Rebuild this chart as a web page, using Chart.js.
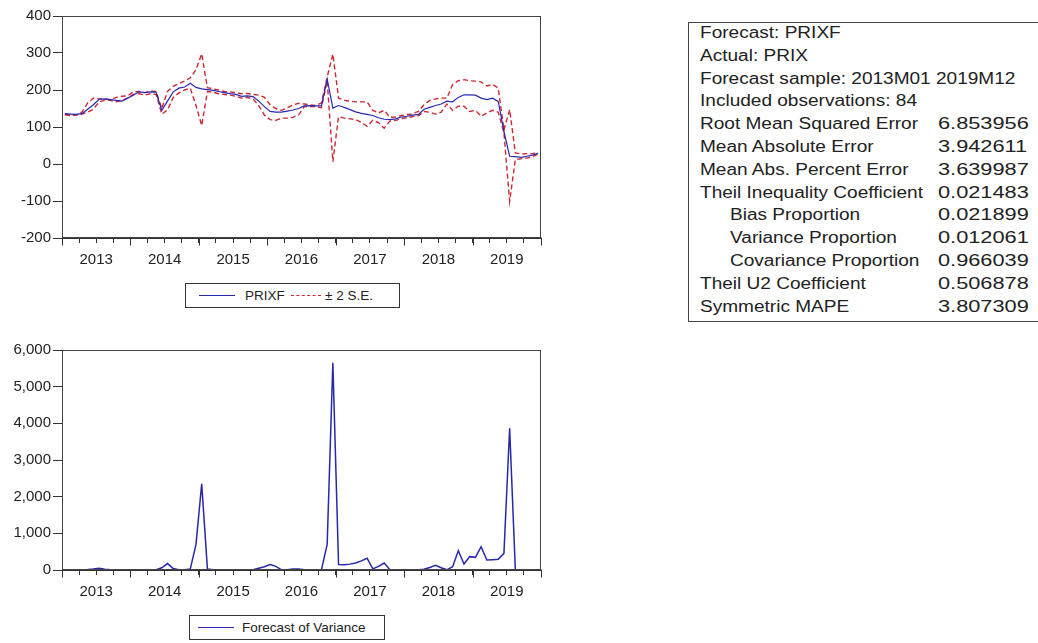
<!DOCTYPE html>
<html><head><meta charset="utf-8">
<script src="https://cdn.jsdelivr.net/npm/chart.js@4.4.1/dist/chart.umd.min.js"></script>
<style>
html,body{margin:0;padding:0;background:#fff;width:1038px;height:643px;overflow:hidden;font-family:"Liberation Sans",Arial,sans-serif;color:#222;}
#topWrap{position:absolute;left:0;top:0;width:560px;height:275px;}
#botWrap{position:absolute;left:0;top:330px;width:560px;height:275px;}
.legend{position:absolute;border:1px solid #333;background:#fff;font-size:13.5px;color:#222;box-sizing:border-box;}
.legend .ln{position:absolute;height:0;}
.legend .tx{position:absolute;white-space:nowrap;line-height:16px;}
#table{position:absolute;left:688px;top:22px;width:400px;height:300px;border:1px solid #444;box-sizing:border-box;}
.row{position:absolute;white-space:nowrap;font-size:16px;line-height:20px;transform:scaleX(1.19);transform-origin:0 50%;color:#222;}
.val{transform:scaleX(1.36);}
</style>
</head><body>
<div id="topWrap"><canvas id="c1"></canvas></div>
<div id="botWrap"><canvas id="c2"></canvas></div>

<div class="legend" style="left:185px;top:283px;width:215px;height:25px;">
  <div class="ln" style="left:13px;top:11px;width:36px;border-top:1.5px solid rgb(40,40,180);"></div>
  <div class="tx" style="left:59px;top:4px;">PRIXF</div>
  <div class="ln" style="left:105px;top:11px;width:30px;border-top:1.5px dashed rgb(205,40,50);"></div>
  <div class="tx" style="left:139px;top:4px;">± 2 S.E.</div>
</div>
<div class="legend" style="left:189px;top:615px;width:196px;height:25px;">
  <div class="ln" style="left:8px;top:11px;width:36px;border-top:1.5px solid rgb(40,40,180);"></div>
  <div class="tx" style="left:52px;top:4px;">Forecast of Variance</div>
</div>
<div id="table"></div>

<script>
// ---- data ----
const years = ['2013','2014','2015','2016','2017','2018','2019'];
const prixf = [
 136,135,134,136,148,160,175,176,174,172,170,178,
 186,195,193,195,194,145,170,195,205,208,218,207,
 203,201,199,196,193,190,188,183,184,182,170,155,
 142,140,140,143,146,150,157,158,157,157,230,151,
 158,153,147,141,137,134,131,125,121,120,122,127,
 129,132,134,148,153,158,162,170,168,180,187,187,
 186,178,174,178,169,88,21,20,18,21,24,29
];
const upperSE = [
 134,133,133,140,165,178,176,176,174,180,183,184,
 195,196,193,197,196,150,196,210,217,224,233,255,
 298,206,203,200,196,195,193,190,191,188,186,180,
 160,150,145,152,160,164,162,160,158,165,235,297,
 178,172,170,168,168,168,145,138,145,126,127,131,
 133,136,142,160,172,176,178,178,215,225,228,225,
 224,222,211,215,205,92,147,30,27,28,28,31
];
const lowerSE = [
 133,131,132,135,140,148,168,172,172,168,172,178,
 188,190,186,190,188,135,146,180,192,200,205,158,
 104,196,194,190,188,186,183,178,180,176,158,132,
 120,118,124,124,126,133,155,155,155,152,225,6,
 128,124,122,120,112,102,118,112,97,116,118,123,
 125,128,130,142,140,135,140,162,145,156,156,142,
 145,129,138,145,140,84,-101,12,14,16,20,27
];
const variance = [
 10,10,10,10,15,25,50,20,10,10,10,10,
 10,10,10,10,10,60,175,40,10,10,30,700,
 2350,30,5,5,5,5,5,5,5,10,50,90,
 150,100,5,5,30,30,5,5,5,10,700,5650,
 150,140,160,190,250,320,30,100,190,10,5,5,
 5,5,5,20,70,127,60,5,90,526,164,364,
 345,636,273,280,290,455,3864,5,5,5,5,5
];
const yTicksTop = [-200,-100,0,100,200,300,400];
const yTicksBot = [0,1000,2000,3000,4000,5000,6000];
const tableLabels = ['Forecast: PRIXF','Actual: PRIX','Forecast sample: 2013M01 2019M12','Included observations: 84',
 'Root Mean Squared Error','Mean Absolute Error','Mean Abs. Percent Error','Theil Inequality Coefficient',
 'Bias Proportion','Variance Proportion','Covariance Proportion','Theil U2 Coefficient','Symmetric MAPE'];
const tableValues = ['','','','','6.853956','3.942611','3.639987','0.021483','0.021899','0.012061','0.966039','0.506878','3.807309'];
const tableIndent = [0,0,0,0,0,0,0,0,1,1,1,0,0];

// ---- helpers ----
const pts = arr => arr.map((v,i)=>({x:i,y:v}));
const FONT = "'Liberation Sans', Arial, sans-serif";
const INK = '#222';

function xAxis(height){
  return {
    type:'linear', min:-0.5, max:83.5, position:'bottom',
    afterBuildTicks: ax => { const t=[]; for(let k=0;k<=years.length*4;k++) t.push({value:-0.5+3*k}); ax.ticks=t; },
    ticks:{autoSkip:false, maxRotation:0, minRotation:0, padding:8, color:INK, font:{family:FONT,size:15},
      callback:(v,i)=> (i%4===2) ? years[(i-2)/4] : ''},
    grid:{drawOnChartArea:false, drawTicks:true, tickLength:5, tickColor:'#333', tickWidth:1},
    border:{display:true, color:'#333', width:1},
    afterFit: ax => { ax.height = height; }
  };
}
function yAxis(min,max,list,fmt){
  return {
    min:min, max:max,
    afterBuildTicks: ax => { ax.ticks = list.map(v=>({value:v})); },
    ticks:{color:INK, font:{family:FONT,size:15}, padding:2, callback:fmt},
    grid:{drawOnChartArea:false, drawTicks:true, tickLength:9, tickColor:'#333', tickWidth:1},
    border:{display:true, color:'#333', width:1},
    afterFit: ax => { ax.width = 62; }
  };
}
const framePlugin = {
  id:'frame',
  afterDraw(chart){
    const {ctx, chartArea:a, scales} = chart;
    ctx.save();
    ctx.strokeStyle='#444'; ctx.lineWidth=1;
    const l=Math.round(a.left)+0.5, t=Math.round(a.top)+0.5, r=Math.round(a.right)-0.5, b=Math.round(a.bottom)-0.5;
    ctx.strokeRect(l,t,r-l,b-t);
    const xs = scales.x;
    ctx.strokeStyle='#333';
    for(let k=0;k<=years.length*4;k+=4){
      const px = Math.round(xs.getPixelForValue(-0.5+3*k))+0.5;
      ctx.beginPath(); ctx.moveTo(px,b); ctx.lineTo(px,b+8); ctx.stroke();
    }
    ctx.restore();
  }
};

Chart.defaults.font.family = FONT;

new Chart(document.getElementById('c1'), {
  type:'line',
  data:{datasets:[
    {label:'PRIXF', data:pts(prixf), borderColor:'rgb(40,40,180)', borderWidth:1.2, pointRadius:0, tension:0, fill:false},
    {label:'+2 S.E.', data:pts(upperSE), borderColor:'rgb(205,40,50)', borderWidth:1.4, borderDash:[5,3], pointRadius:0, tension:0, fill:false},
    {label:'-2 S.E.', data:pts(lowerSE), borderColor:'rgb(205,40,50)', borderWidth:1.4, borderDash:[5,3], pointRadius:0, tension:0, fill:false}
  ]},
  options:{
    responsive:true, maintainAspectRatio:false, animation:false,
    layout:{padding:{top:16,right:19,bottom:0,left:0}, autoPadding:false},
    plugins:{legend:{display:false}, tooltip:{enabled:false}},
    scales:{ x:xAxis(37), y:yAxis(-200,400,yTicksTop, v=>String(v)) }
  },
  plugins:[framePlugin]
});

new Chart(document.getElementById('c2'), {
  type:'line',
  data:{datasets:[
    {label:'Forecast of Variance', data:pts(variance), borderColor:'rgb(40,40,170)', borderWidth:1.5, pointRadius:0, tension:0, fill:false}
  ]},
  options:{
    responsive:true, maintainAspectRatio:false, animation:false,
    layout:{padding:{top:20,right:19,bottom:0,left:0}, autoPadding:false},
    plugins:{legend:{display:false}, tooltip:{enabled:false}},
    scales:{ x:xAxis(35), y:yAxis(0,6000,yTicksBot, v=>v.toLocaleString('en-US')) }
  },
  plugins:[framePlugin]
});

// ---- statistics table ----
const tbl = document.getElementById('table');
tableLabels.forEach((lab,k)=>{
  const cy = 33 + 22.8*k - 22;
  const d = document.createElement('div');
  d.className='row'; d.textContent=lab;
  d.style.left = (tableIndent[k] ? 41 : 11) + 'px';
  d.style.top = (cy-10-1) + 'px';
  tbl.appendChild(d);
  if(tableValues[k]){
    const v = document.createElement('div');
    v.className='row val'; v.textContent=tableValues[k];
    v.style.left = '249px'; v.style.top=(cy-10-1)+'px';
    tbl.appendChild(v);
  }
});
</script>
</body></html>
